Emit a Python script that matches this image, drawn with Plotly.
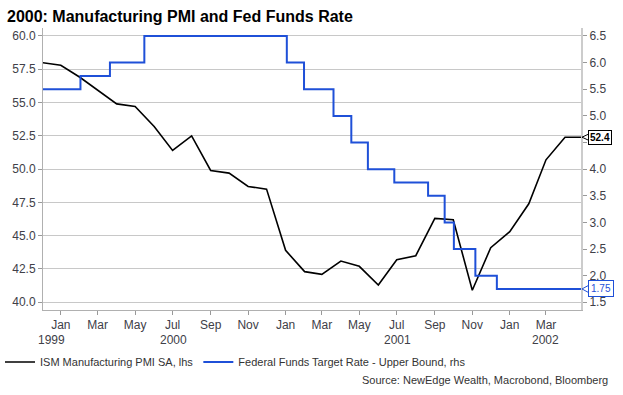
import plotly.graph_objects as go
import pandas as pd

# ---- data ----
pmi_dates = pd.date_range("1999-12-01", "2002-05-01", freq="MS")
pmi_values = [58.0, 57.8, 56.9, 55.9, 54.9, 54.7, 53.2, 51.4, 52.5, 49.9, 49.7, 48.7, 48.5,
              43.9, 42.3, 42.1, 43.1, 42.7, 41.3, 43.2, 43.5, 46.3, 46.2, 40.9, 44.1,
              45.3, 47.4, 50.7, 52.4, 52.4]

ff_dates = ["1999-12-01", "2000-02-02", "2000-03-21", "2000-05-16", "2001-01-03",
            "2001-01-31", "2001-03-20", "2001-04-18", "2001-05-15", "2001-06-27",
            "2001-08-21", "2001-09-17", "2001-10-02", "2001-11-06", "2001-12-11",
            "2002-05-01"]
ff_values = [5.5, 5.75, 6.0, 6.5, 6.0, 5.5, 5.0, 4.5, 4.0, 3.75, 3.5, 3.0, 2.5, 2.0, 1.75, 1.75]

left_ticks = [40.0, 42.5, 45.0, 47.5, 50.0, 52.5, 55.0, 57.5, 60.0]
right_ticks = [1.5, 2.0, 2.5, 3.0, 3.5, 4.0, 4.5, 5.0, 5.5, 6.0, 6.5]
years = [1999, 2000, 2001, 2002]

x_range = ["1999-12-03", "2002-04-27"]
y1_range = [39.42, 60.6]
y2_range = [1.355, 6.65]
BLACK = "#000000"
BLUE = "#1f50d8"
FONT = "Liberation Sans, Arial, sans-serif"
TICKC = "#404048"

W, H = 623, 395
ML, MR, MT, MB = 38, 42, 28, 85
PW, PH = W - ML - MR, H - MT - MB

fig = go.Figure()
fig.add_trace(go.Scatter(x=pmi_dates, y=pmi_values, mode="lines",
                         line=dict(color=BLACK, width=1.6),
                         name="ISM Manufacturing PMI SA, lhs", yaxis="y"))
fig.add_trace(go.Scatter(x=pd.to_datetime(ff_dates), y=ff_values, mode="lines",
                         line=dict(color=BLUE, width=2, shape="hv"),
                         name="Federal Funds Target Rate - Upper Bound, rhs", yaxis="y2"))

# year labels centred on visible part of each year
r0, r1 = pd.Timestamp(x_range[0]), pd.Timestamp(x_range[1])
annotations = []
for yr in years:
    a = max(pd.Timestamp(f"{yr}-01-01"), r0)
    b = min(pd.Timestamp(f"{yr+1}-01-01"), r1)
    mid = a + (b - a) / 2
    annotations.append(dict(x=mid, y=0, xref="x", yref="paper", text=str(yr),
                            showarrow=False, yanchor="middle", yshift=-30,
                            font=dict(size=12, color=TICKC, family=FONT)))

# last value labels with a "<" notch pointing at the axis
shapes = []
def last_label(value, rng, text, color, pad, half):
    py = (value - rng[0]) / (rng[1] - rng[0])
    annotations.append(dict(x=1, xref="paper", y=py, yref="paper", text=text,
                            showarrow=False, xanchor="left", yanchor="middle", xshift=7,
                            bordercolor=color, borderwidth=1, borderpad=pad,
                            bgcolor="white", font=dict(size=10, color=color, family=FONT)))
    dx = 7 / PW
    dy = half / PH
    shapes.append(dict(type="path", xref="paper", yref="paper",
                       path=f"M {1+dx+0.5/PW},{py+dy} L {1+1/PW},{py} L {1+dx+0.5/PW},{py-dy}",
                       line=dict(color=color, width=1), layer="above"))

last_label(pmi_values[-1], y1_range, "<b>%.1f</b>" % pmi_values[-1], BLACK, 1, 3)
last_label(ff_values[-1], y2_range, "%.2f" % ff_values[-1], BLUE, 2, 3.5)

# right-axis tick labels; the one hidden behind the last-value box is left blank
box_y2 = y2_range[0] + (pmi_values[-1] - y1_range[0]) / (y1_range[1] - y1_range[0]) * (y2_range[1] - y2_range[0])
right_text = ["" if abs(v - box_y2) < 0.15 else "%.1f" % v for v in right_ticks]

annotations.append(dict(x=(610 - ML) / PW, xref="paper", y=-(380 - (H - MB)) / PH, yref="paper",
                        text="Source: NewEdge Wealth, Macrobond, Bloomberg",
                        showarrow=False, xanchor="right", yanchor="middle",
                        font=dict(size=11, color="#333333", family=FONT)))

fig.update_layout(
    width=W, height=H,
    margin=dict(l=ML, r=MR, t=MT, b=MB),
    paper_bgcolor="white", plot_bgcolor="white",
    font=dict(family=FONT, size=12, color=TICKC),
    title=dict(text="<b>2000: Manufacturing PMI and Fed Funds Rate</b>",
               x=7 / W, xref="container", xanchor="left",
               y=1 - 16 / H, yref="container", yanchor="middle",
               font=dict(size=16, color="#000000", family=FONT)),
    xaxis=dict(type="date", range=x_range, tick0="2000-01-01", dtick="M2",
               tickformat="%b", ticks="outside", ticklen=4, tickcolor="#999999",
               showgrid=False, showline=True, linecolor="#b0b0b0", linewidth=1,
               tickfont=dict(size=12, color=TICKC)),
    yaxis=dict(range=y1_range, tickvals=left_ticks,
               ticktext=["%.1f" % v for v in left_ticks],
               ticks="outside", ticklen=4, tickcolor="#999999",
               showgrid=True, gridcolor="#c8c8c8", gridwidth=1,
               showline=True, linecolor="#b0b0b0", linewidth=1, zeroline=False,
               tickfont=dict(size=12, color=TICKC)),
    yaxis2=dict(range=y2_range, tickvals=right_ticks, ticktext=right_text,
                overlaying="y", side="right", ticks="outside", ticklen=4,
                tickcolor="#999999", showgrid=False, showline=True,
                linecolor="#cccccc", linewidth=2, zeroline=False,
                tickfont=dict(size=12, color=TICKC)),
    legend=dict(orientation="h", xref="container", yref="container",
                x=-0.008, y=(H - 362) / H, xanchor="left", yanchor="middle",
                itemwidth=30, font=dict(size=11, color="#333333", family=FONT),
                bgcolor="rgba(0,0,0,0)", tracegroupgap=0, itemclick=False),
    annotations=annotations,
    shapes=shapes,
    showlegend=True,
)

fig.write_html("out.html", config={"displayModeBar": False},
               post_script="document.body.style.margin='0';")
